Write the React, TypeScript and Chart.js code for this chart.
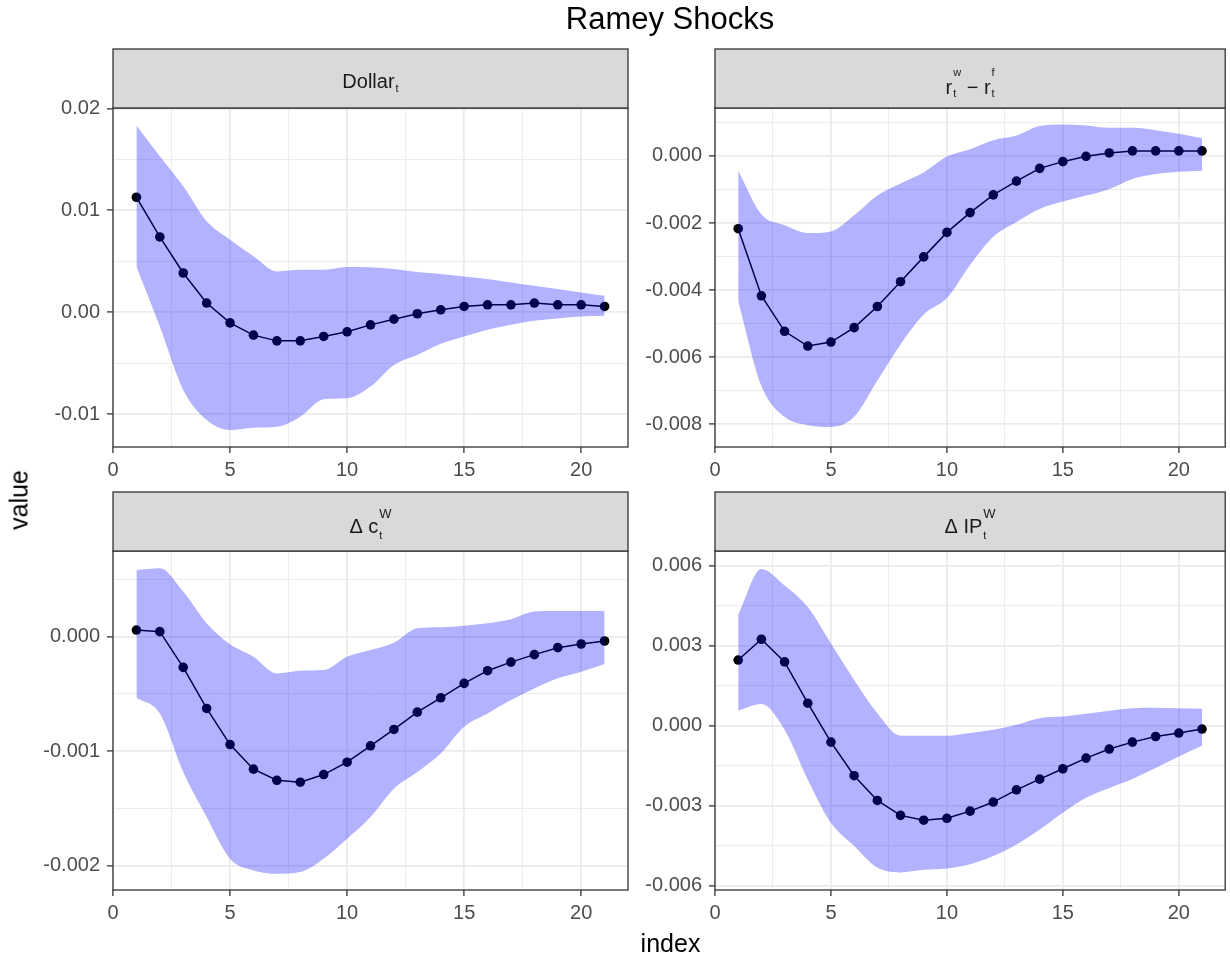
import React, { useEffect, useRef } from "react";
import { Chart, registerables } from "chart.js";

Chart.register(...registerables);

// ---------------- data ----------------
const index = [1, 2, 3, 4, 5, 6, 7, 8, 9, 10, 11, 12, 13, 14, 15, 16, 17, 18, 19, 20, 21];

const dollarMid = [0.01128, 0.00738, 0.00384, 0.00089, -0.00105, -0.00226, -0.00282, -0.00282, -0.00239, -0.00193, -0.00125, -0.00069, -0.00016, 0.00023, 0.00056, 0.00072, 0.00072, 0.00089, 0.00072, 0.00072, 0.00056];
const dollarHi = [0.01833, 0.01531, 0.01236, 0.00892, 0.00711, 0.00548, 0.004, 0.00416, 0.00416, 0.00443, 0.0044, 0.00423, 0.00393, 0.00374, 0.00351, 0.00325, 0.00292, 0.00259, 0.00226, 0.00193, 0.00161];
const dollarLo = [0.00449, -0.00141, -0.00764, -0.01059, -0.01157, -0.01134, -0.01125, -0.01026, -0.00856, -0.00846, -0.00731, -0.00518, -0.0042, -0.00311, -0.00239, -0.00174, -0.00125, -0.00085, -0.00062, -0.00043, -0.00036];

const spreadMid = [-0.00217, -0.00417, -0.00523, -0.00567, -0.00555, -0.00512, -0.00449, -0.00375, -0.00301, -0.00228, -0.00169, -0.00116, -0.00075, -0.00037, -0.00017, -0.00001, 0.00009, 0.00015, 0.00015, 0.00015, 0.00015];
const spreadHi = [-0.00044, -0.00174, -0.00207, -0.0023, -0.00225, -0.00177, -0.00118, -0.00082, -0.00049, -0.00002, 0.0002, 0.00047, 0.00061, 0.00089, 0.00094, 0.00091, 0.00084, 0.00084, 0.00077, 0.00066, 0.00053];
const spreadLo = [-0.00433, -0.00685, -0.00778, -0.00803, -0.00808, -0.00778, -0.0067, -0.00562, -0.00473, -0.00424, -0.00325, -0.00241, -0.00197, -0.00158, -0.00136, -0.00118, -0.00099, -0.00069, -0.00054, -0.00047, -0.00044];

const consMid = [0.000058, 0.000044, -0.000268, -0.000627, -0.000942, -0.001157, -0.001254, -0.001271, -0.001204, -0.001096, -0.000953, -0.00081, -0.000659, -0.000534, -0.000408, -0.000297, -0.000222, -0.000157, -0.000096, -0.000064, -0.000038];
const consHi = [0.000583, 0.000598, 0.000394, 0.000117, -0.000067, -0.000175, -0.000321, -0.000297, -0.000292, -0.000175, -0.000117, -0.000053, 0.000073, 0.000082, 0.000096, 0.000117, 0.000152, 0.000219, 0.000224, 0.000224, 0.000224];
const consLo = [-0.000534, -0.000671, -0.001181, -0.001574, -0.001939, -0.002041, -0.00207, -0.002055, -0.001939, -0.001764, -0.001574, -0.001327, -0.001181, -0.00102, -0.000787, -0.000671, -0.000554, -0.000452, -0.000364, -0.000306, -0.000239];

const ipMid = [0.00247, 0.00325, 0.0024, 0.00085, -0.00061, -0.00187, -0.0028, -0.00336, -0.00354, -0.00347, -0.0032, -0.00286, -0.0024, -0.002, -0.00161, -0.00121, -0.00087, -0.00061, -0.0004, -0.00027, -0.00012];
const ipHi = [0.00418, 0.00589, 0.00527, 0.00446, 0.00309, 0.00172, 0.00047, -0.00037, -0.00037, -0.00037, -0.00027, -0.00015, 0.00004, 0.00029, 0.00035, 0.00045, 0.00057, 0.00066, 0.00068, 0.00066, 0.00064];
const ipLo = [0.00057, 0.00082, -0.00015, -0.00202, -0.00364, -0.00451, -0.00532, -0.0055, -0.0054, -0.00535, -0.00519, -0.00488, -0.00445, -0.00389, -0.00326, -0.0027, -0.00233, -0.00199, -0.00158, -0.00115, -0.00075];

// axis ticks / limits
const xLimits = [0, 22];
const xMajor = [0, 5, 10, 15, 20];
const xMinor = [2.5, 7.5, 12.5, 17.5];

const dollarLimits = [-0.01324, 0.02004];
const dollarMajor = [-0.01, 0, 0.01, 0.02];
const dollarMinor = [-0.005, 0.005, 0.015];

const spreadLimits = [-0.00868, 0.00143];
const spreadMajor = [-0.008, -0.006, -0.004, -0.002, 0];
const spreadMinor = [-0.007, -0.005, -0.003, -0.001, 0.001];

const consLimits = [-0.002212, 0.000748];
const consMajor = [-0.002, -0.001, 0];
const consMinor = [-0.0015, -0.0005, 0.0005];

const ipLimits = [-0.00616, 0.006562];
const ipMajor = [-0.006, -0.003, 0, 0.003, 0.006];
const ipMinor = [-0.0045, -0.0015, 0.0015, 0.0045];

const title = "Ramey Shocks";
const xTitle = "index";
const yTitle = "value";

// ---------------- layout ----------------
const W = 1230;
const H = 958;
const FONT = "'Liberation Sans', Arial, Helvetica, sans-serif";
const Y_AXIS_W = 70;
const X_AXIS_H = 34;
const STRIP_H = 59;

type Part = { t: string; sup?: string; sub?: string };

const panels = [
  {
    mid: dollarMid, hi: dollarHi, lo: dollarLo,
    limits: dollarLimits, major: dollarMajor, minor: dollarMinor, digits: 2,
    label: [{ t: "Dollar", sub: "t" }] as Part[],
    labelStyle: { base: 9, supSize: 11, subSize: 11, rise: 14, drop: 4 },
    box: { left: 113, right: 628, top: 108, bottom: 447 },
  },
  {
    mid: spreadMid, hi: spreadHi, lo: spreadLo,
    limits: spreadLimits, major: spreadMajor, minor: spreadMinor, digits: 3,
    label: [{ t: "r", sup: "w", sub: "t" }, { t: " \u2212 " }, { t: "r", sup: "f", sub: "t" }] as Part[],
    labelStyle: { base: 15, supSize: 11, subSize: 11, rise: 18, drop: 3 },
    box: { left: 715, right: 1228, top: 108, bottom: 447 },
  },
  {
    mid: consMid, hi: consHi, lo: consLo,
    limits: consLimits, major: consMajor, minor: consMinor, digits: 3,
    label: [{ t: "\u0394 c", sup: "W", sub: "t" }] as Part[],
    labelStyle: { base: 11, supSize: 13, subSize: 11, rise: 15, drop: 6 },
    box: { left: 113, right: 628, top: 551, bottom: 890 },
  },
  {
    mid: ipMid, hi: ipHi, lo: ipLo,
    limits: ipLimits, major: ipMajor, minor: ipMinor, digits: 3,
    label: [{ t: "\u0394 IP", sup: "W", sub: "t" }] as Part[],
    labelStyle: { base: 11, supSize: 13, subSize: 11, rise: 15, drop: 6 },
    box: { left: 715, right: 1228, top: 551, bottom: 890 },
  },
];

const facetPlugin = {
  id: "facet",
  afterDraw(chart: any, _args: any, opts: any) {
    const { ctx, chartArea: a } = chart;
    const w = a.right - a.left;
    ctx.save();
    ctx.strokeStyle = "#333333";
    ctx.lineWidth = 1.3;
    ctx.strokeRect(a.left, a.top, w, a.bottom - a.top);
    const sTop = a.top - STRIP_H;
    ctx.fillStyle = "#D9D9D9";
    ctx.fillRect(a.left, sTop, w, STRIP_H);
    ctx.strokeRect(a.left, sTop, w, STRIP_H);

    const parts: Part[] = opts.label;
    const st = opts.labelStyle;
    const baseFont = `20px ${FONT}`;
    const supFont = `${st.supSize}px ${FONT}`;
    const subFont = `${st.subSize}px ${FONT}`;
    const widths = parts.map((p) => {
      ctx.font = baseFont;
      const bw = ctx.measureText(p.t).width;
      let sw = 0;
      if (p.sup) { ctx.font = supFont; sw = Math.max(sw, ctx.measureText(p.sup).width); }
      if (p.sub) { ctx.font = subFont; sw = Math.max(sw, ctx.measureText(p.sub).width); }
      return { bw, sw: sw ? sw + 1 : 0 };
    });
    const total = widths.reduce((s, v) => s + v.bw + v.sw, 0);
    let x = (a.left + a.right) / 2 - total / 2;
    const baseY = sTop + STRIP_H / 2 + st.base;
    ctx.fillStyle = "#1A1A1A";
    ctx.textBaseline = "alphabetic";
    ctx.textAlign = "left";
    parts.forEach((p, i) => {
      ctx.font = baseFont;
      ctx.fillText(p.t, x, baseY);
      x += widths[i].bw;
      if (p.sup) { ctx.font = supFont; ctx.fillText(p.sup, x + 1, baseY - st.rise); }
      if (p.sub) { ctx.font = subFont; ctx.fillText(p.sub, x + 1, baseY + st.drop); }
      x += widths[i].sw;
    });
    ctx.restore();
  },
};

function tickList(major: number[], minor: number[]) {
  return [
    ...major.map((v) => ({ value: v, minor: false })),
    ...minor.map((v) => ({ value: v, minor: true })),
  ].sort((p, q) => p.value - q.value);
}

const gridColor = "#EBEBEB";
const gridOpts = {
  color: gridColor,
  lineWidth: (c: any) => (c.tick && c.tick.minor ? 0.9 : 1.8),
  tickColor: (c: any) => (c.tick && c.tick.minor ? "rgba(0,0,0,0)" : "#333333"),
  tickWidth: 1.3,
  tickLength: 6,
  drawTicks: true,
  drawOnChartArea: true,
};

function Panel({ p }: { p: (typeof panels)[number] }) {
  const ref = useRef<HTMLCanvasElement>(null);
  useEffect(() => {
    const toPts = (arr: number[]) => arr.map((v, i) => ({ x: index[i], y: v }));
    const chart = new Chart(ref.current as HTMLCanvasElement, {
      type: "line",
      data: {
        datasets: [
          {
            data: toPts(p.lo),
            borderWidth: 0,
            pointRadius: 0,
            fill: false,
            cubicInterpolationMode: "monotone",
            borderColor: "rgba(0,0,0,0)",
          },
          {
            data: toPts(p.hi),
            borderWidth: 0,
            pointRadius: 0,
            fill: "-1",
            backgroundColor: "rgba(0,0,255,0.3)",
            cubicInterpolationMode: "monotone",
            borderColor: "rgba(0,0,0,0)",
          },
          {
            data: toPts(p.mid),
            borderColor: "#000000",
            borderWidth: 1.5,
            pointRadius: 4.8,
            pointBackgroundColor: "#000000",
            pointBorderWidth: 0,
            fill: false,
            tension: 0,
          },
        ],
      } as any,
      options: {
        animation: false,
        responsive: false,
        events: [],
        layout: {
          padding: {
            left: p.box.left - Y_AXIS_W,
            top: p.box.top,
            right: W - p.box.right,
            bottom: H - p.box.bottom - X_AXIS_H,
          },
        },
        plugins: {
          legend: { display: false },
          tooltip: { enabled: false },
          facet: { label: p.label, labelStyle: p.labelStyle },
        } as any,
        scales: {
          x: {
            type: "linear",
            min: xLimits[0],
            max: xLimits[1],
            bounds: "data",
            border: { display: false },
            grid: gridOpts as any,
            afterBuildTicks: (s: any) => { s.ticks = tickList(xMajor, xMinor); },
            afterFit: (s: any) => { s.height = X_AXIS_H; },
            ticks: {
              autoSkip: false,
              maxRotation: 0,
              padding: 5,
              color: "#4D4D4D",
              font: { family: FONT, size: 20 },
              callback: (v: any, i: number, t: any[]) => (t[i].minor ? "" : String(v)),
            },
          },
          y: {
            type: "linear",
            min: p.limits[0],
            max: p.limits[1],
            bounds: "data",
            border: { display: false },
            grid: gridOpts as any,
            afterBuildTicks: (s: any) => { s.ticks = tickList(p.major, p.minor); },
            afterFit: (s: any) => { s.width = Y_AXIS_W; },
            ticks: {
              autoSkip: false,
              padding: 7,
              color: "#4D4D4D",
              font: { family: FONT, size: 20 },
              callback: (v: any, i: number, t: any[]) => (t[i].minor ? "" : Number(v).toFixed(p.digits)),
            },
          },
        },
      } as any,
      plugins: [facetPlugin as any],
    });
    return () => chart.destroy();
  }, []);
  return (
    <canvas
      ref={ref}
      width={W}
      height={H}
      style={{ position: "absolute", left: 0, top: 0, width: W, height: H }}
    />
  );
}

export default function App() {
  return (
    <div
      style={{
        position: "fixed",
        left: 0,
        top: 0,
        width: W,
        height: H,
        background: "#FFFFFF",
        overflow: "hidden",
        fontFamily: FONT,
      }}
    >
      {panels.map((p, i) => (
        <Panel key={i} p={p} />
      ))}
      <div
        style={{
          position: "absolute",
          left: 670,
          top: 4,
          transform: "translateX(-50%)",
          fontSize: 31,
          lineHeight: "30px",
          color: "#000",
          whiteSpace: "nowrap",
        }}
      >
        {title}
      </div>
      <div
        style={{
          position: "absolute",
          left: 670.5,
          top: 931,
          transform: "translateX(-50%)",
          fontSize: 25,
          lineHeight: "25px",
          color: "#000",
          whiteSpace: "nowrap",
        }}
      >
        {xTitle}
      </div>
      <div
        style={{
          position: "absolute",
          left: 19,
          top: 500,
          transform: "translate(-50%, -50%) rotate(-90deg)",
          fontSize: 25,
          lineHeight: "25px",
          color: "#000",
          whiteSpace: "nowrap",
        }}
      >
        {yTitle}
      </div>
    </div>
  );
}
